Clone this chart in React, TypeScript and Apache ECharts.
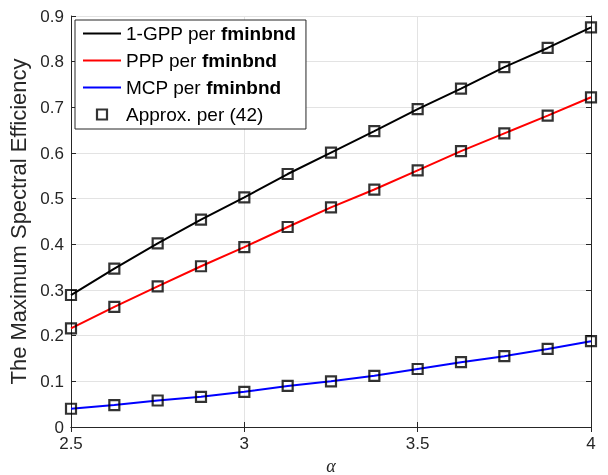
import React, { useEffect, useRef } from "react";
import * as echarts from "echarts";

const alpha = [2.5, 2.625, 2.75, 2.875, 3.0, 3.125, 3.25, 3.375, 3.5, 3.625, 3.75, 3.875, 4.0];
const gpp = [0.289, 0.347, 0.402, 0.454, 0.503, 0.554, 0.601, 0.648, 0.696, 0.741, 0.788, 0.830, 0.875];
const ppp = [0.216, 0.263, 0.308, 0.352, 0.394, 0.438, 0.481, 0.520, 0.562, 0.604, 0.643, 0.682, 0.722];
const mcp = [0.040, 0.048, 0.058, 0.066, 0.077, 0.090, 0.100, 0.112, 0.127, 0.142, 0.155, 0.171, 0.188];
const seriesNames = ["1-GPP per fminbnd", "PPP per fminbnd", "MCP per fminbnd"];
const approxName = "Approx. per (42)";
const xLabel = "α";
const yLabel = "The Maximum Spectral Efficiency";

const FONT = "'Liberation Sans', Arial, Helvetica, sans-serif";
const AX = "#262626";

export default function App() {
  const ref = useRef<HTMLDivElement>(null);
  useEffect(() => {
    if (!ref.current) return;
    const chart = echarts.init(ref.current, undefined, { renderer: "svg" });
    const pairs = (ys: number[]) => alpha.map((a, i) => [a, ys[i]]);
    const lineColors = ["#000000", "#ff0000", "#0000ff"];
    const all = [gpp, ppp, mcp];
    const lineSeries = all.map((ys, k) => ({
      name: seriesNames[k],
      type: "line",
      data: pairs(ys),
      symbol: "none",
      lineStyle: { color: lineColors[k], width: 2 },
      itemStyle: { color: lineColors[k] },
      z: 2,
    }));
    const markSeries = all.map((ys) => ({
      name: approxName,
      type: "scatter",
      data: pairs(ys),
      symbol: "rect",
      symbolSize: 10,
      itemStyle: { color: "rgba(255,255,255,0)", borderColor: "#000", borderWidth: 2.2 },
      z: 3,
    }));
    const commonAxis = {
      axisLine: { show: true, lineStyle: { color: AX, width: 1 } },
      axisTick: { show: true, inside: true, length: 5, lineStyle: { color: AX } },
    };
    chart.setOption({
      animation: false,
      textStyle: { fontFamily: FONT },
      grid: { left: 71, right: 17, top: 16, bottom: 48, containLabel: false, outerBoundsMode: "none" },
      legend: {
        orient: "vertical",
        left: 75,
        top: 20,
        padding: [4, 10, 5, 8],
        itemWidth: 38,
        itemHeight: 10,
        itemGap: 8,
        symbolKeepAspect: true,
        backgroundColor: "#fff",
        borderColor: AX,
        borderWidth: 1,
        borderRadius: 0,
        data: [
          ...seriesNames.map((n, k) => ({
            name: n,
            icon: "path://M0,0H38V2H0Z",
            itemStyle: { color: lineColors[k], borderWidth: 0 },
          })),
          {
            name: approxName,
            icon: "path://M0,0H10V10H0Z",
            itemStyle: { color: "rgba(255,255,255,0)", borderColor: "#000", borderWidth: 2.2 },
          },
        ],
        formatter: (name: string) => {
          const m = name.match(/^(.*per )fminbnd$/);
          if (m) return `{r|${m[1]}}{b|fminbnd}`;
          return `{r|${name}}`;
        },
        textStyle: {
          color: "#000",
          rich: {
            r: { fontSize: 19, fontFamily: FONT, color: "#000", lineHeight: 18 },
            b: { fontSize: 19, fontFamily: FONT, fontWeight: "bold", color: "#000", lineHeight: 18 },
          },
        },
      },
      xAxis: [
        {
          type: "value",
          min: 2.5,
          max: 4,
          interval: 0.5,
          name: xLabel,
          nameLocation: "middle",
          nameGap: 20,
          nameTextStyle: { fontFamily: "'Liberation Serif', 'Times New Roman', serif", fontStyle: "italic", fontSize: 18, color: AX },
          ...commonAxis,
          axisLabel: { color: AX, fontSize: 17, margin: 8, fontFamily: FONT },
          splitLine: { show: true, lineStyle: { color: "#e3e3e3", width: 1 } },
        },
        {
          type: "value",
          position: "top",
          min: 2.5,
          max: 4,
          interval: 0.5,
          ...commonAxis,
          axisLabel: { show: false },
          splitLine: { show: false },
        },
      ],
      yAxis: [
        {
          type: "value",
          min: 0,
          max: 0.9,
          interval: 0.1,
          name: yLabel,
          nameLocation: "middle",
          nameGap: 34,
          nameTextStyle: { fontSize: 22, color: AX, fontFamily: FONT },
          ...commonAxis,
          axisLabel: { color: AX, fontSize: 17, margin: 7, fontFamily: FONT },
          splitLine: { show: true, lineStyle: { color: "#e3e3e3", width: 1 } },
        },
        {
          type: "value",
          position: "right",
          min: 0,
          max: 0.9,
          interval: 0.1,
          ...commonAxis,
          axisLabel: { show: false },
          splitLine: { show: false },
        },
      ],
      series: [...lineSeries, ...markSeries],
    });
    return () => chart.dispose();
  }, []);
  return <div ref={ref} style={{ position: "fixed", left: 0, top: 0, width: 608, height: 475 }} />;
}
